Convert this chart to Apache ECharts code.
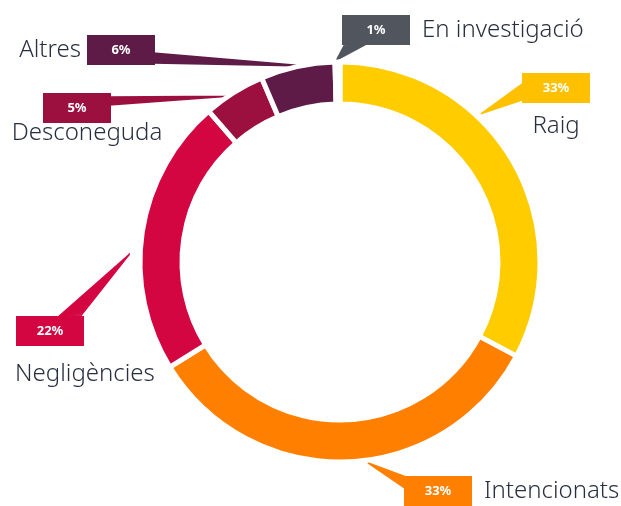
<!DOCTYPE html>
<html>
<head>
<meta charset="utf-8">
<script src="https://cdn.jsdelivr.net/npm/echarts@6/dist/echarts.min.js"></script>
<style>
  html, body { margin: 0; padding: 0; background: #fff; }
  #main { width: 621px; height: 506px; }
</style>
</head>
<body>
<div id="main"></div>
<script>
// dades (mida dels sectors estimada, i percentatges tal com es llegeixen)
var causes = ['Raig', 'Intencionats', 'Negligències', 'Desconeguda', 'Altres', 'En investigació'];
var valors = [32.8, 33.4, 22.4, 5.0, 6.0, 0.4];
var percentatges = ['33%', '33%', '22%', '5%', '6%', '1%'];
var colors = ['#FFCC00', '#FF8000', '#D30642', '#9C1040', '#5E1B48', '#51565E'];
var colorsCaixa = ['#FFC000', '#FF8000', '#D30642', '#9C1040', '#5E1B48', '#51565E'];

var centre = [340, 262];

// posicio de cada etiqueta; punta = [angle des de dalt, radi], base = dos punts a la caixa
var posEtiquetes = [
    { x: 556, y: 73, align: 'center', va: 'top', punta: [43.6, 205], base: [[522, 84], [522, 100]] },
    { x: 404, y: 491, align: 'left', va: 'middle', punta: [172, 203], base: [[406, 477], [406, 489]] },
    { x: 50, y: 316, align: 'center', va: 'top', punta: [272, 211], base: [[57, 318], [79, 318]] },
    { x: 77, y: 93, align: 'center', va: 'top', punta: [326, 200], base: [[109, 97], [109, 105]] },
    { x: 155, y: 50, align: 'right', va: 'middle', punta: [350, 199], base: [[153, 53], [153, 63]] },
    { x: 342, y: 30, align: 'left', va: 'middle', punta: [359, 202], base: [[346, 42], [370, 42]] }
];
var desplNom = [0, 0, 70, 20, 0, 0];
var altLinia = [46, 40, 56, 20, 40, 40];

function textEtiqueta(i) {
    var p = posEtiquetes[i];
    if (p.va == 'top') return '{b' + i + '|' + percentatges[i] + '}\n{n' + i + '|' + causes[i] + '}';
    if (p.align == 'right') return '{nr|' + causes[i] + '}{b' + i + '|' + percentatges[i] + '}';
    return '{b' + i + '|' + percentatges[i] + '}{nl|' + causes[i] + '}';
}

var estilNom = { fontSize: 24, color: '#283040', fontFamily: 'Noto Sans', fontWeight: 300 };
var rich = {
    nr: Object.assign({ padding: [0, 6, 0, 0] }, estilNom),
    nl: Object.assign({ padding: [0, 0, 0, 12] }, estilNom)
};
for (var k = 0; k < causes.length; k++) {
    rich['b' + k] = {
        backgroundColor: colorsCaixa[k], color: '#fff', fontWeight: 'bold', fontSize: 13,
        width: 68, height: 30, align: 'center', fontFamily: 'Noto Sans'
    };
    rich['n' + k] = Object.assign({ lineHeight: altLinia[k], padding: [0, 0, 0, desplNom[k]] }, estilNom);
}

// cua en forma de triangle: un ventall de segments des de la punta fins a la base
function puntsCua(p) {
    var a = p.punta[0] * Math.PI / 180;
    var tip = [centre[0] + p.punta[1] * Math.sin(a), centre[1] - p.punta[1] * Math.cos(a)];
    var pts = [tip];
    var n = 10;
    for (var s = 0; s <= n; s++) {
        var t = s / n;
        pts.push([p.base[0][0] + (p.base[1][0] - p.base[0][0]) * t, p.base[0][1] + (p.base[1][1] - p.base[0][1]) * t]);
        pts.push(tip);
    }
    return pts;
}

var dades = [];
for (var i = 0; i < causes.length; i++) {
    dades.push({
        name: causes[i],
        value: valors[i],
        itemStyle: { color: colors[i] },
        label: { formatter: textEtiqueta(i) },
        labelLine: { lineStyle: { color: colorsCaixa[i], width: 1.5, join: 'round' } }
    });
}

var chart = echarts.init(document.getElementById('main'));
var option = {
    animation: false,
    series: [{
        type: 'pie',
        center: centre,
        radius: [158, 200],
        startAngle: 90,
        clockwise: true,
        avoidLabelOverlap: false,
        itemStyle: { borderColor: '#fff', borderWidth: 5 },
        label: { show: true, rich: rich, fontFamily: 'Noto Sans' },
        labelLine: { show: true, length: 20, length2: 10, smooth: false, minTurnAngle: 0 },
        labelLayout: function (params) {
            var p = posEtiquetes[params.dataIndex];
            return {
                x: p.x, y: p.y, align: p.align, verticalAlign: p.va,
                labelLinePoints: puntsCua(p)
            };
        },
        data: dades
    }]
};
chart.setOption(option);
</script>
</body>
</html>
